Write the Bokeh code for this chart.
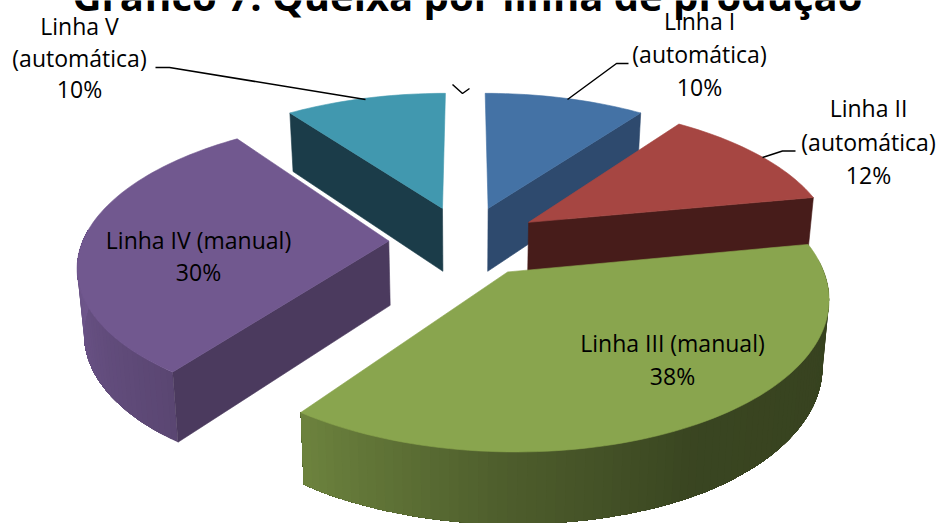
import numpy as np
from bokeh.plotting import figure
from bokeh.models import ColumnDataSource, Range1d
from bokeh.embed import file_html
from bokeh.resources import INLINE
from bokeh.core.properties import value

# ---------- data ----------
title_text = "Gráfico 7: Queixa por linha de produção"
names = [["Linha I", "(automática)"], ["Linha II", "(automática)"], ["Linha III (manual)"],
         ["Linha IV (manual)"], ["Linha V", "(automática)"]]
shares = [10, 12, 38, 30, 10]
top_colors = [(68, 114, 165), (166, 70, 66), (137, 165, 78), (113, 88, 143), (65, 152, 175)]
cut_colors = [(46, 74, 110), (71, 28, 26), (60, 72, 34), (75, 58, 94), (27, 60, 73)]

# ---------- layout / projection ----------
W, H = 941, 523
CX, CY = 464.8, 240.5
SX, SY, PERSP = 306.0, 141.9, 0.153
EXPLODE = 0.25
label_x = [699, 868, 672, 198, 79]
label_y = [[20, 53, 86], [107, 141, 174], [342, 375], [239, 271], [25, 57, 88]]
leaders_x = [[628, 616, 567], [795, 782, 762], [155, 169, 365], [452, 462, 469]]
leaders_y = [[63, 63, 99], [150.5, 150.5, 157], [67, 67, 99], [84, 93, 88]]
draw_order = [4, 0, 3, 1, 2]


def project(px, py):
    den = 1 - PERSP * py
    return CX + SX * px / den, CY + SY * py / den


def lower(x, y):
    return CX + (x - CX) * 0.982, y + 53.5 + 0.045 * np.minimum(y, 420)


def hex_of(c, f=1.0):
    return "#%02x%02x%02x" % tuple(int(round(v * f)) for v in c)


edges = np.concatenate([[0], np.cumsum(shares)]) * 3.6
xs, ys, fills, widths = [], [], [], []


def add(px, py, col, w=0.6):
    xs.append(list(np.round(px, 2)))
    ys.append(list(np.round(py, 2)))
    fills.append(col)
    widths.append(w)


for i in draw_order:
    t0, t1 = edges[i], edges[i + 1]
    mid = np.radians((t0 + t1) / 2)
    ox, oy = EXPLODE * np.sin(mid), -EXPLODE * np.cos(mid)
    ts = np.radians(np.arange(t0, t1 + 0.01, 1.5))
    ts[-1] = np.radians(t1)
    ax, ay = project(ox, oy)
    rimx, rimy = project(ox + np.sin(ts), oy - np.cos(ts))
    # outer wall: each band runs to the wall's end and is overpainted by the next
    if t0 < 275 and t1 > 85:
        last = int(np.max(np.where(np.degrees(ts) < 275)[0]))
        for k in range(last):
            deg = np.degrees(ts[k])
            if deg > 85:
                shade = np.interp(deg, [100, 150, 180, 216, 265], [0.40, 0.42, 0.56, 0.80, 0.97])
                x2, y2 = lower(rimx[k:last + 1], rimy[k:last + 1])
                add(np.concatenate([rimx[k:last + 1], x2[::-1]]),
                    np.concatenate([rimy[k:last + 1], y2[::-1]]),
                    hex_of(top_colors[i], shade), 0)
    # cut faces turned towards the viewer
    for t, j, sign in ((t0, 0, -1), (t1, -1, 1)):
        if sign * np.sin(np.radians(t)) > 1e-6:
            bx, by = lower(np.array([ax, rimx[j]]), np.array([ay, rimy[j]]))
            add(np.array([ax, rimx[j], bx[1], bx[0]]), np.array([ay, rimy[j], by[1], by[0]]),
                hex_of(cut_colors[i]))
    # top
    add(np.concatenate([[ax], rimx]), np.concatenate([[ay], rimy]), hex_of(top_colors[i]))

p = figure(width=W, height=H, x_range=Range1d(0, W), y_range=Range1d(H, 0),
           output_backend="svg", toolbar_location=None, min_border=0)
p.axis.visible = False
p.grid.visible = False
p.outline_line_color = None
p.background_fill_color = "white"
p.border_fill_color = "white"

src = ColumnDataSource(dict(xs=xs, ys=ys, fill=fills, w=widths))
p.patches("xs", "ys", source=src, fill_color="fill", line_color="fill", line_width="w")

p.multi_line(leaders_x, leaders_y, line_color="black", line_width=1.5)

p.text([467], [-5], text=[title_text], text_font=value("Open Sans"), text_font_style="bold",
       text_font_size="40px", text_color="black", text_align="center", text_baseline="alphabetic")

tx, ty, tt = [], [], []
for i, lines in enumerate(names):
    rows = lines + [f"{shares[i]}%"]
    for row, yy in zip(rows, label_y[i]):
        tx.append(label_x[i])
        ty.append(yy)
        tt.append(row)
p.text(tx, ty, text=tt, text_font=value("Open Sans"), text_font_size="23px", text_color="black",
       text_align="center", text_baseline="middle")

open("out.html", "w").write(file_html(p, INLINE))
